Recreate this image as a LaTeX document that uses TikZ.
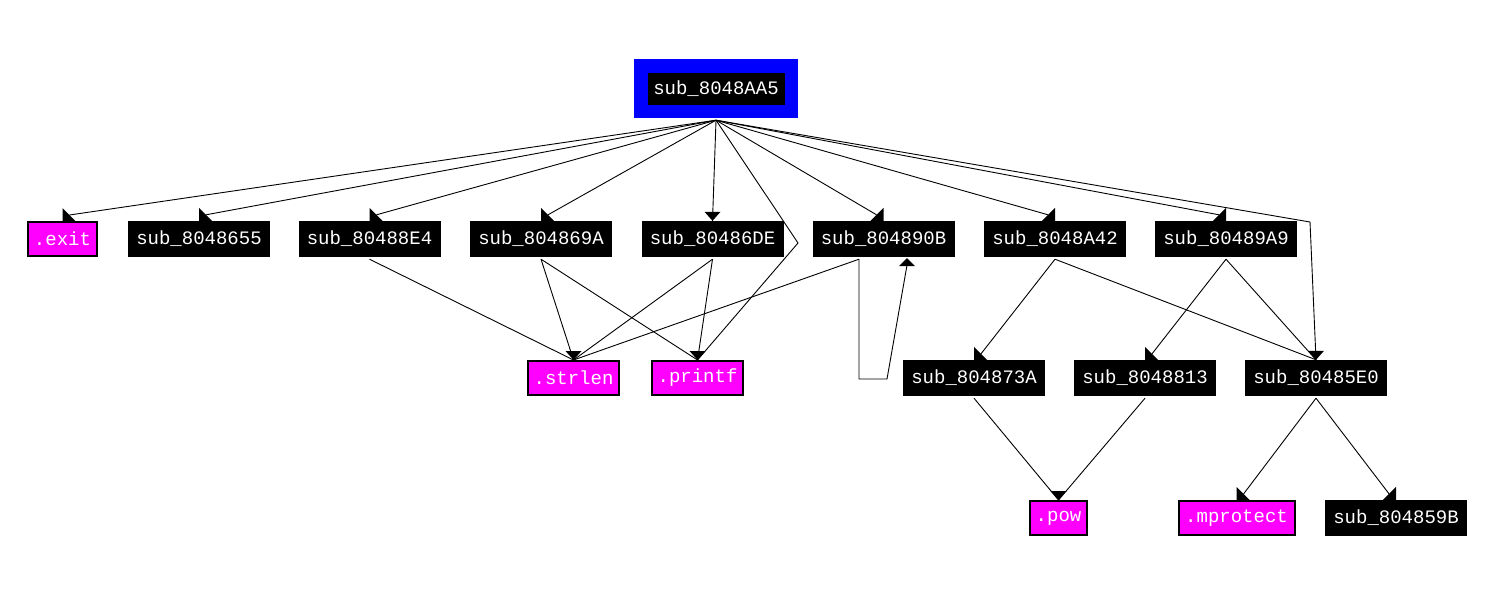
\documentclass[tikz,border=0pt]{standalone}
\usepackage{fontspec}
\setmonofont{Liberation Mono}
\usetikzlibrary{calc}
\definecolor{idamag}{HTML}{FF00FF}
\definecolor{idablue}{HTML}{0000FF}
\begin{document}
\begin{tikzpicture}[x=1pt,y=-1pt,
  lbl/.style={font=\ttfamily\fontsize{19}{19}\selectfont,text=white,inner sep=0pt},
  fn/.style={lbl,fill=black,minimum width=142pt,minimum height=36pt},
  lib/.style={lbl,fill=idamag,draw=black,line width=2pt,minimum height=34pt},
  edge/.style={line width=0.9pt,black},
  ahsw/.pic={\fill[black] (0,0)--(0,-13)--(13,0)--cycle;},
  ahse/.pic={\fill[black] (0,0)--(0,-13)--(-13,0)--cycle;},
  ahs/.pic={\fill[black] (0,0)--(-8,-9)--(8,-9)--cycle;},
  ahn/.pic={\fill[black] (0,0)--(-8,8)--(8,8)--cycle;}
]
\fill[white] (0,0) rectangle (1495,589);
\useasboundingbox (0,0) rectangle (1495,589);

% root
\node[fill=idablue,minimum width=164pt,minimum height=59pt,inner sep=0pt] (rootbg) at (716,88.5) {};
\node[fn,minimum width=137pt,minimum height=32pt] (root) at (716,89) {sub\_8048AA5};

% row 1
\node[lib,minimum width=69pt] (exit) at (62.5,239) {.exit};
\node[fn] (n655) at (199,239) {sub\_8048655};
\node[fn] (n8E4) at (369.5,239) {sub\_80488E4};
\node[fn] (n69A) at (541,239) {sub\_804869A};
\node[fn] (n6DE) at (712.5,239) {sub\_80486DE};
\node[fn] (n90B) at (883.5,239) {sub\_804890B};
\node[fn] (nA42) at (1055,239) {sub\_8048A42};
\node[fn] (n9A9) at (1226,239) {sub\_80489A9};

% row 2
\node[lib,minimum width=91pt] (strlen) at (573.5,378) {.strlen};
\node[lib,minimum width=91pt] (printf) at (697.5,378) {.printf};
\node[fn] (n73A) at (974,378) {sub\_804873A};
\node[fn] (n813) at (1145,378) {sub\_8048813};
\node[fn] (n5E0) at (1316,378) {sub\_80485E0};

% row 3
\node[lib,minimum width=57pt] (pow) at (1058.5,518) {.pow};
\node[lib,minimum width=116pt] (mprot) at (1236.5,518) {.mprotect};
\node[fn] (n59B) at (1396,518) {sub\_804859B};

% bend points
\coordinate (bp1) at (798,243);
\coordinate (bp2) at (1310,222);
\coordinate (lp1) at (859,379);
\coordinate (lp2) at (887,379);

% edges from root
\draw[edge] ([yshift=-2pt]rootbg.south) -- ($(exit.north)+(7,-6)$);
\draw[edge] ([yshift=-2pt]rootbg.south) -- ($(n655.north)+(7,-6)$);
\draw[edge] ([yshift=-2pt]rootbg.south) -- ($(n8E4.north)+(7,-6)$);
\draw[edge] ([yshift=-2pt]rootbg.south) -- ($(n69A.north)+(7,-6)$);
\draw[edge] ([yshift=-2pt]rootbg.south) -- (n6DE.north);
\draw[edge] ([yshift=-2pt]rootbg.south) -- (bp1) -- (printf.north);
\draw[edge] ([yshift=-2pt]rootbg.south) -- ($(n90B.north)+(-7,-6)$);
\draw[edge] ([yshift=-2pt]rootbg.south) -- ($(nA42.north)+(-7,-6)$);
\draw[edge] ([yshift=-2pt]rootbg.south) -- ($(n9A9.north)+(-7,-6)$);
\draw[edge] ([yshift=-2pt]rootbg.south) -- (bp2) -- (n5E0.north);

% row 1 -> row 2
\draw[edge] ([yshift=-2pt]n8E4.south) -- (strlen.north);
\draw[edge] ([yshift=-2pt]n69A.south) -- (strlen.north);
\draw[edge] ([yshift=-2pt]n69A.south) -- (printf.north);
\draw[edge] ([yshift=-2pt]n6DE.south) -- (strlen.north);
\draw[edge] ([yshift=-2pt]n6DE.south) -- (printf.north);
\draw[edge] ([xshift=-24.5pt,yshift=-2pt]n90B.south) -- (strlen.north);
\draw[edge] ([xshift=-24.5pt,yshift=-2pt]n90B.south) -- (lp1) -- (lp2) -- ([xshift=23.5pt,yshift=-8pt]n90B.south);
\draw[edge] ([yshift=-2pt]nA42.south) -- ($(n73A.north)+(7,-6)$);
\draw[edge] ([yshift=-2pt]nA42.south) -- (n5E0.north);
\draw[edge] ([yshift=-2pt]n9A9.south) -- ($(n813.north)+(7,-6)$);
\draw[edge] ([yshift=-2pt]n9A9.south) -- (n5E0.north);

% row 2 -> row 3
\draw[edge] ([yshift=-2pt]n73A.south) -- (pow.north);
\draw[edge] ([yshift=-2pt]n813.south) -- (pow.north);
\draw[edge] ([yshift=-2pt]n5E0.south) -- ($(mprot.north)+(7,-6)$);
\draw[edge] ([yshift=-2pt]n5E0.south) -- ($(n59B.north)+(-7,-6)$);

% arrowheads
\pic at (exit.north) {ahsw};
\pic at (n655.north) {ahsw};
\pic at (n8E4.north) {ahsw};
\pic at (n69A.north) {ahsw};
\pic at (n6DE.north) {ahs};
\pic at (n90B.north) {ahse};
\pic at (nA42.north) {ahse};
\pic at (n9A9.north) {ahse};
\pic at (strlen.north) {ahs};
\pic at (printf.north) {ahs};
\pic at (n73A.north) {ahsw};
\pic at (n813.north) {ahsw};
\pic at (n5E0.north) {ahs};
\pic at (pow.north) {ahs};
\pic at (mprot.north) {ahsw};
\pic at (n59B.north) {ahse};
\pic at ([xshift=23.5pt,yshift=-1pt]n90B.south) {ahn};
\end{tikzpicture}
\end{document}
